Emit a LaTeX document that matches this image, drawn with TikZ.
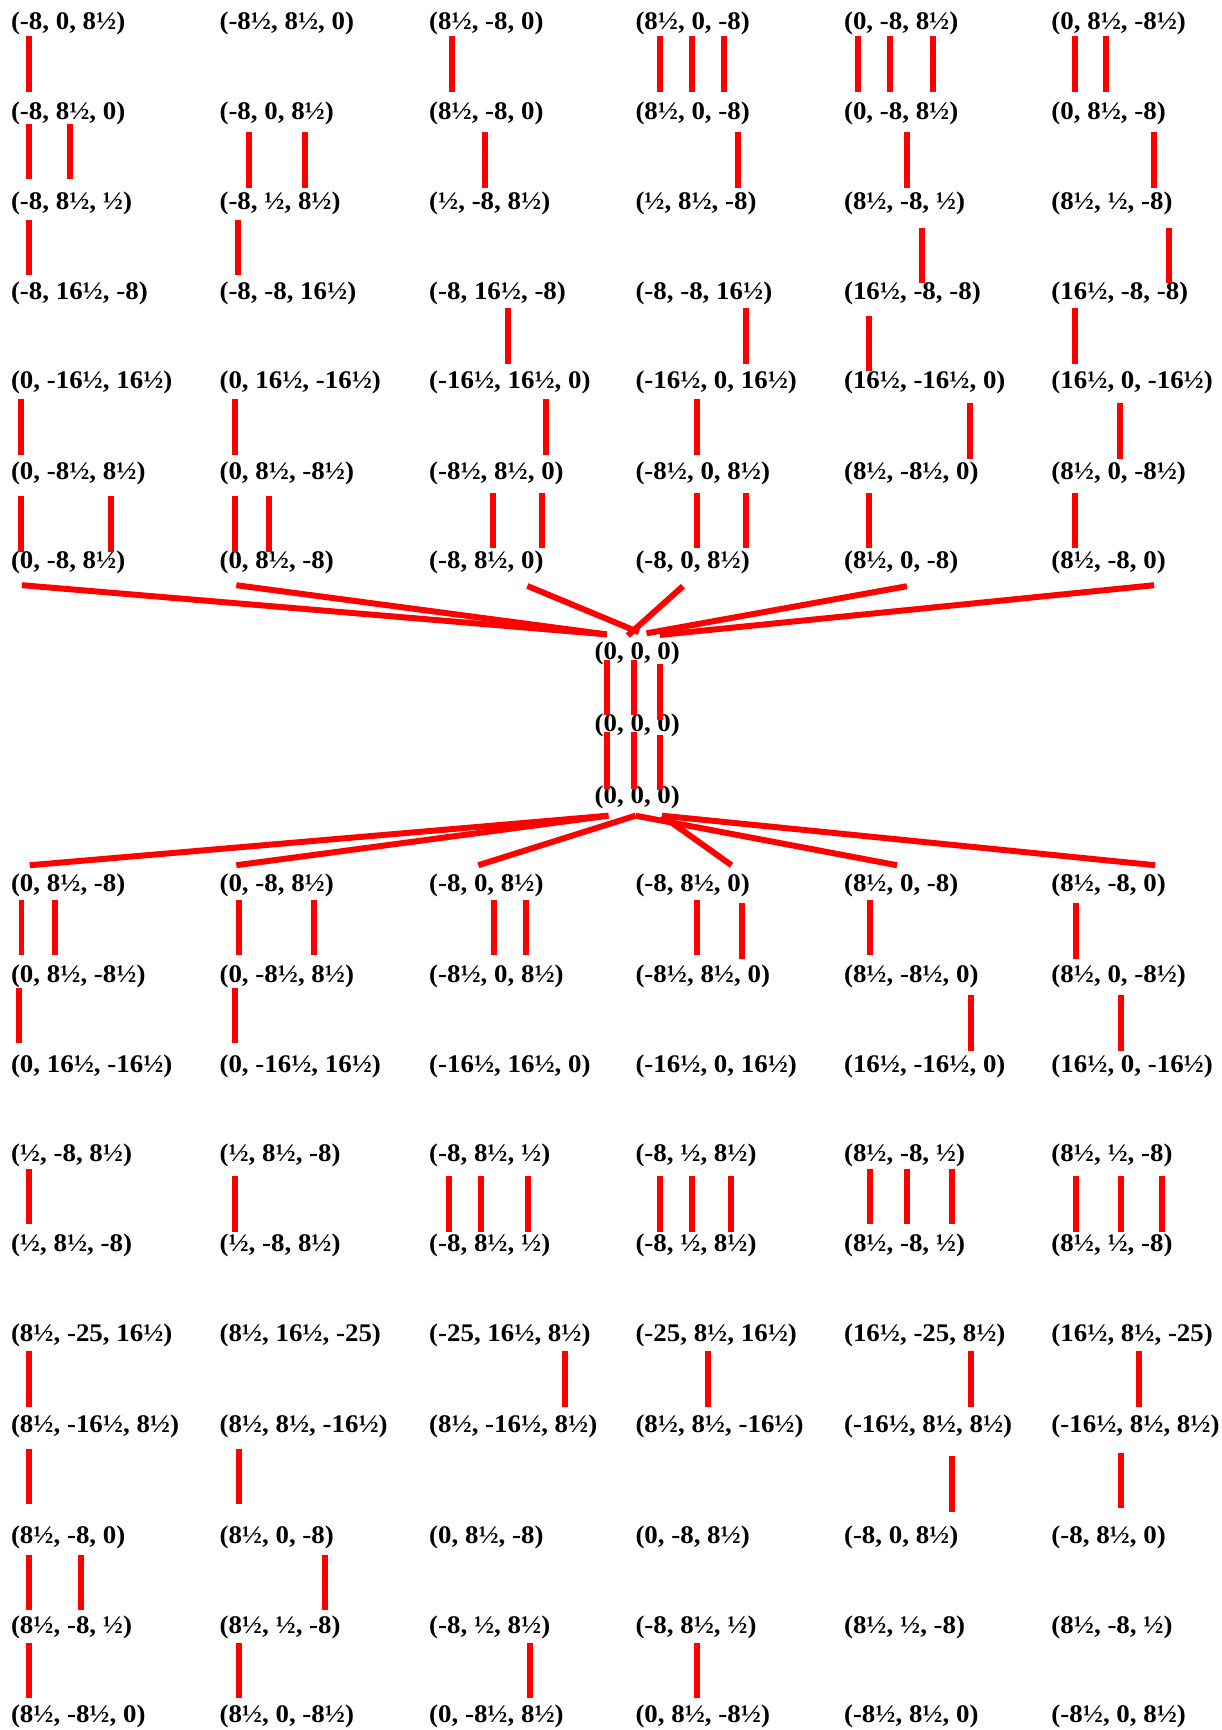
\documentclass[tikz,border=0pt]{standalone}
\usepackage{fontspec}
\setmainfont{Liberation Serif}[FakeStretch=1.06]
\tikzset{
  lab/.style={anchor=west, inner sep=0pt, outer sep=0pt, font=\fontsize{23}{27}\selectfont\bfseries},
  link/.style={draw=red, line width=5.4pt}
}
% label: name, x, y, text
\newcommand\lab[4]{\node[lab] (#1) at (#2,#3) {#4};}
% vertical connector: from, to, dx, dy at start, dy at end (relative to west anchors)
\newcommand\conn[5]{\draw[link] ([shift={(#3,#4)}]#1.west) -- ([shift={(#3,#5)}]#2.west);}
% slanted connector: from, dx, dy, to, dx, dy
\newcommand\fan[6]{\draw[link] ([shift={(#2,#3)}]#1.west) -- ([shift={(#5,#6)}]#4.west);}
\begin{document}
\begin{tikzpicture}[x=1pt, y=-1pt]
\useasboundingbox (0,0) rectangle (1106.7,1568);
% ---------- top block ----------
\lab{t1c1}{10}{21.5}{(-8, 0, 8½)}
\lab{t1c2}{199}{21.5}{(-8½, 8½, 0)}
\lab{t1c3}{389}{21.5}{(8½, -8, 0)}
\lab{t1c4}{576}{21.5}{(8½, 0, -8)}
\lab{t1c5}{765}{21.5}{(0, -8, 8½)}
\lab{t1c6}{953}{21.5}{(0, 8½, -8½)}
\lab{t2c1}{10}{103.1}{(-8, 8½, 0)}
\lab{t2c2}{199}{103.1}{(-8, 0, 8½)}
\lab{t2c3}{389}{103.1}{(8½, -8, 0)}
\lab{t2c4}{576}{103.1}{(8½, 0, -8)}
\lab{t2c5}{765}{103.1}{(0, -8, 8½)}
\lab{t2c6}{953}{103.1}{(0, 8½, -8)}
\lab{t3c1}{10}{184.6}{(-8, 8½, ½)}
\lab{t3c2}{199}{184.6}{(-8, ½, 8½)}
\lab{t3c3}{389}{184.6}{(½, -8, 8½)}
\lab{t3c4}{576}{184.6}{(½, 8½, -8)}
\lab{t3c5}{765}{184.6}{(8½, -8, ½)}
\lab{t3c6}{953}{184.6}{(8½, ½, -8)}
\lab{t4c1}{10}{266.1}{(-8, 16½, -8)}
\lab{t4c2}{199}{266.1}{(-8, -8, 16½)}
\lab{t4c3}{389}{266.1}{(-8, 16½, -8)}
\lab{t4c4}{576}{266.1}{(-8, -8, 16½)}
\lab{t4c5}{765}{266.1}{(16½, -8, -8)}
\lab{t4c6}{953}{266.1}{(16½, -8, -8)}
\lab{t5c1}{10}{347}{(0, -16½, 16½)}
\lab{t5c2}{199}{347}{(0, 16½, -16½)}
\lab{t5c3}{389}{347}{(-16½, 16½, 0)}
\lab{t5c4}{576}{347}{(-16½, 0, 16½)}
\lab{t5c5}{765}{347}{(16½, -16½, 0)}
\lab{t5c6}{953}{347}{(16½, 0, -16½)}
\lab{t6c1}{10}{429.2}{(0, -8½, 8½)}
\lab{t6c2}{199}{429.2}{(0, 8½, -8½)}
\lab{t6c3}{389}{429.2}{(-8½, 8½, 0)}
\lab{t6c4}{576}{429.2}{(-8½, 0, 8½)}
\lab{t6c5}{765}{429.2}{(8½, -8½, 0)}
\lab{t6c6}{953}{429.2}{(8½, 0, -8½)}
\lab{t7c1}{10}{510.1}{(0, -8, 8½)}
\lab{t7c2}{199}{510.1}{(0, 8½, -8)}
\lab{t7c3}{389}{510.1}{(-8, 8½, 0)}
\lab{t7c4}{576}{510.1}{(-8, 0, 8½)}
\lab{t7c5}{765}{510.1}{(8½, 0, -8)}
\lab{t7c6}{953}{510.1}{(8½, -8, 0)}
% ---------- centre ----------
\lab{c1}{539}{592.3}{(0, 0, 0)}
\lab{c2}{539}{657.3}{(0, 0, 0)}
\lab{c3}{539}{722.3}{(0, 0, 0)}
% ---------- bottom block ----------
\lab{b1c1}{10}{802.4}{(0, 8½, -8)}
\lab{b1c2}{199}{802.4}{(0, -8, 8½)}
\lab{b1c3}{389}{802.4}{(-8, 0, 8½)}
\lab{b1c4}{576}{802.4}{(-8, 8½, 0)}
\lab{b1c5}{765}{802.4}{(8½, 0, -8)}
\lab{b1c6}{953}{802.4}{(8½, -8, 0)}
\lab{b2c1}{10}{884.6}{(0, 8½, -8½)}
\lab{b2c2}{199}{884.6}{(0, -8½, 8½)}
\lab{b2c3}{389}{884.6}{(-8½, 0, 8½)}
\lab{b2c4}{576}{884.6}{(-8½, 8½, 0)}
\lab{b2c5}{765}{884.6}{(8½, -8½, 0)}
\lab{b2c6}{953}{884.6}{(8½, 0, -8½)}
\lab{b3c1}{10}{966.4}{(0, 16½, -16½)}
\lab{b3c2}{199}{966.4}{(0, -16½, 16½)}
\lab{b3c3}{389}{966.4}{(-16½, 16½, 0)}
\lab{b3c4}{576}{966.4}{(-16½, 0, 16½)}
\lab{b3c5}{765}{966.4}{(16½, -16½, 0)}
\lab{b3c6}{953}{966.4}{(16½, 0, -16½)}
\lab{b4c1}{10}{1047.1}{(½, -8, 8½)}
\lab{b4c2}{199}{1047.1}{(½, 8½, -8)}
\lab{b4c3}{389}{1047.1}{(-8, 8½, ½)}
\lab{b4c4}{576}{1047.1}{(-8, ½, 8½)}
\lab{b4c5}{765}{1047.1}{(8½, -8, ½)}
\lab{b4c6}{953}{1047.1}{(8½, ½, -8)}
\lab{b5c1}{10}{1128.7}{(½, 8½, -8)}
\lab{b5c2}{199}{1128.7}{(½, -8, 8½)}
\lab{b5c3}{389}{1128.7}{(-8, 8½, ½)}
\lab{b5c4}{576}{1128.7}{(-8, ½, 8½)}
\lab{b5c5}{765}{1128.7}{(8½, -8, ½)}
\lab{b5c6}{953}{1128.7}{(8½, ½, -8)}
\lab{b6c1}{10}{1210.3}{(8½, -25, 16½)}
\lab{b6c2}{199}{1210.3}{(8½, 16½, -25)}
\lab{b6c3}{389}{1210.3}{(-25, 16½, 8½)}
\lab{b6c4}{576}{1210.3}{(-25, 8½, 16½)}
\lab{b6c5}{765}{1210.3}{(16½, -25, 8½)}
\lab{b6c6}{953}{1210.3}{(16½, 8½, -25)}
\lab{b7c1}{10}{1292.8}{(8½, -16½, 8½)}
\lab{b7c2}{199}{1292.8}{(8½, 8½, -16½)}
\lab{b7c3}{389}{1292.8}{(8½, -16½, 8½)}
\lab{b7c4}{576}{1292.8}{(8½, 8½, -16½)}
\lab{b7c5}{765}{1292.8}{(-16½, 8½, 8½)}
\lab{b7c6}{953}{1292.8}{(-16½, 8½, 8½)}
\lab{b8c1}{10}{1393.8}{(8½, -8, 0)}
\lab{b8c2}{199}{1393.8}{(8½, 0, -8)}
\lab{b8c3}{389}{1393.8}{(0, 8½, -8)}
\lab{b8c4}{576}{1393.8}{(0, -8, 8½)}
\lab{b8c5}{765}{1393.8}{(-8, 0, 8½)}
\lab{b8c6}{953}{1393.8}{(-8, 8½, 0)}
\lab{b9c1}{10}{1475.3}{(8½, -8, ½)}
\lab{b9c2}{199}{1475.3}{(8½, ½, -8)}
\lab{b9c3}{389}{1475.3}{(-8, ½, 8½)}
\lab{b9c4}{576}{1475.3}{(-8, 8½, ½)}
\lab{b9c5}{765}{1475.3}{(8½, ½, -8)}
\lab{b9c6}{953}{1475.3}{(8½, -8, ½)}
\lab{b10c1}{10}{1555.7}{(8½, -8½, 0)}
\lab{b10c2}{199}{1555.7}{(8½, 0, -8½)}
\lab{b10c3}{389}{1555.7}{(0, -8½, 8½)}
\lab{b10c4}{576}{1555.7}{(0, 8½, -8½)}
\lab{b10c5}{765}{1555.7}{(-8½, 8½, 0)}
\lab{b10c6}{953}{1555.7}{(-8½, 0, 8½)}
% ---------- top connectors ----------
\conn{t1c1}{t2c1}{15.9}{11.5}{-19.8}
\conn{t2c1}{t3c1}{15.9}{9.7}{-22.2}
\conn{t2c1}{t3c1}{53.3}{9.7}{-22.2}
\conn{t3c1}{t4c1}{15.9}{14.9}{-17}
\conn{t5c1}{t6c1}{9.4}{14.9}{-17}
\conn{t6c1}{t7c1}{9.4}{20.8}{-9.8}
\conn{t6c1}{t7c1}{90.7}{20.8}{-9.8}
\conn{t2c2}{t3c2}{26.7}{16.6}{-14.6}
\conn{t2c2}{t3c2}{77.6}{16.6}{-14.6}
\conn{t3c2}{t4c2}{16.5}{14.9}{-17}
\conn{t5c2}{t6c2}{14}{14.9}{-17}
\conn{t6c2}{t7c2}{14}{20.8}{-9.8}
\conn{t6c2}{t7c2}{44.5}{20.8}{-9.8}
\conn{t1c3}{t2c3}{20.4}{11.5}{-19.8}
\conn{t2c3}{t3c3}{51}{16.6}{-14.6}
\conn{t4c3}{t5c3}{71.4}{13.2}{-17.4}
\conn{t5c3}{t6c3}{105.6}{14.9}{-17}
\conn{t6c3}{t7c3}{58.1}{17.4}{-13.2}
\conn{t6c3}{t7c3}{102}{17.4}{-13.2}
\conn{t1c4}{t2c4}{21.9}{11.5}{-19.8}
\conn{t1c4}{t2c4}{51.1}{11.5}{-19.8}
\conn{t1c4}{t2c4}{80.2}{11.5}{-19.8}
\conn{t2c4}{t3c4}{93.2}{16.6}{-14.6}
\conn{t4c4}{t5c4}{100}{13.2}{-17.4}
\conn{t5c4}{t6c4}{55.4}{14.9}{-17}
\conn{t6c4}{t7c4}{55.4}{17.4}{-13.2}
\conn{t6c4}{t7c4}{100}{17.4}{-13.2}
\conn{t1c5}{t2c5}{12.8}{11.5}{-19.8}
\conn{t1c5}{t2c5}{41.9}{11.5}{-19.8}
\conn{t1c5}{t2c5}{80.4}{11.5}{-19.8}
\conn{t2c5}{t3c5}{56.7}{16.6}{-14.6}
\conn{t3c5}{t4c5}{70.4}{21.9}{-9.3}
\conn{t4c5}{t5c5}{22.8}{20.2}{-10.4}
\conn{t5c5}{t6c5}{114.2}{18.4}{-13.5}
\conn{t6c5}{t7c5}{22.8}{17.4}{-13.2}
\conn{t1c6}{t2c6}{21.3}{11.5}{-19.8}
\conn{t1c6}{t2c6}{49}{11.5}{-19.8}
\conn{t2c6}{t3c6}{92.5}{16.6}{-14.6}
\conn{t3c6}{t4c6}{106.2}{21.9}{-9.3}
\conn{t4c6}{t5c6}{21.3}{13.2}{-17.4}
\conn{t5c6}{t6c6}{62.2}{18.4}{-13.5}
\conn{t6c6}{t7c6}{21.3}{17.4}{-13.2}
% ---------- fan into the centre ----------
\fan{t7c1}{9.9}{20.3}{c1}{11}{-17.3}
\fan{t7c2}{15.2}{20.3}{c1}{11}{-17.3}
\fan{t7c3}{89}{21}{c1}{40}{-19.3}
\fan{t7c4}{43}{21.2}{c1}{30}{-16.3}
\fan{t7c5}{57}{21.2}{c1}{47}{-18.3}
\fan{t7c6}{93}{20.3}{c1}{59}{-16.8}
% ---------- centre verticals ----------
\conn{c1}{c2}{11}{6.1}{-9.1}
\conn{c1}{c2}{35.2}{6.1}{-9.1}
\conn{c1}{c2}{58.8}{9.7}{-4.5}
\conn{c2}{c3}{11}{6}{-7.6}
\conn{c2}{c3}{35.2}{6}{-7.6}
\conn{c2}{c3}{58.8}{9.1}{-6.1}
% ---------- fan out of the centre ----------
\fan{c3}{12.5}{17}{b1c1}{16.9}{-18.2}
\fan{c3}{12.5}{17}{b1c2}{15.2}{-18.2}
\fan{c3}{37}{17}{b1c3}{44.5}{-18.2}
\fan{c3}{61}{17}{b1c4}{87}{-18.2}
\fan{c3}{37}{17}{b1c5}{48}{-18.2}
\fan{c3}{61}{17}{b1c6}{94}{-18.2}
% ---------- bottom connectors ----------
\conn{b1c1}{b2c1}{9.5}{13}{-18.8}
\conn{b1c1}{b2c1}{40.1}{13}{-18.8}
\conn{b2c1}{b3c1}{7.3}{10.5}{-21.1}
\conn{b4c1}{b5c1}{15.9}{12.1}{-19.6}
\conn{b1c2}{b2c2}{17.2}{13}{-18.8}
\conn{b1c2}{b2c2}{85.3}{13}{-18.8}
\conn{b2c2}{b3c2}{14.3}{10.5}{-21.1}
\conn{b4c2}{b5c2}{14.3}{19.1}{-12}
\conn{b1c3}{b2c3}{58.9}{13}{-18.8}
\conn{b1c3}{b2c3}{88.1}{13}{-18.8}
\conn{b4c3}{b5c3}{18.2}{19.1}{-12}
\conn{b4c3}{b5c3}{47}{19.1}{-12}
\conn{b4c3}{b5c3}{89.6}{19.1}{-12}
\conn{b1c4}{b2c4}{55.5}{13}{-18.8}
\conn{b1c4}{b2c4}{96.6}{16}{-15.1}
\conn{b4c4}{b5c4}{22}{19.1}{-12}
\conn{b4c4}{b5c4}{51.2}{19.1}{-12}
\conn{b4c4}{b5c4}{86.2}{19.1}{-12}
\conn{b1c5}{b2c5}{23.3}{13}{-18.8}
\conn{b2c5}{b3c5}{114.8}{17.4}{-13.8}
\conn{b4c5}{b5c5}{23.3}{12.1}{-19.6}
\conn{b4c5}{b5c5}{57.2}{12.1}{-19.6}
\conn{b4c5}{b5c5}{98.2}{12.1}{-19.6}
\conn{b1c6}{b2c6}{22}{16}{-15.1}
\conn{b2c6}{b3c6}{63}{17.4}{-13.8}
\conn{b4c6}{b5c6}{22}{19.1}{-12}
\conn{b4c6}{b5c6}{63}{19.1}{-12}
\conn{b4c6}{b5c6}{100.2}{19.1}{-12}
\conn{b6c1}{b7c1}{15.9}{14.5}{-17.5}
\conn{b7c1}{b8c1}{15.9}{20.3}{-30.8}
\conn{b8c1}{b9c1}{15.9}{15.4}{-16.3}
\conn{b8c1}{b9c1}{63.5}{15.4}{-16.3}
\conn{b9c1}{b10c1}{15.9}{13.7}{-16.9}
\conn{b7c2}{b8c2}{17.2}{20.3}{-30.8}
\conn{b8c2}{b9c2}{95.8}{15.4}{-16.3}
\conn{b9c2}{b10c2}{17.2}{13.7}{-16.9}
\conn{b6c3}{b7c3}{123.4}{14.5}{-17.5}
\conn{b9c3}{b10c3}{91}{13.7}{-16.9}
\conn{b6c4}{b7c4}{66}{14.5}{-17.5}
\conn{b9c4}{b10c4}{55.5}{13.7}{-16.9}
\conn{b6c5}{b7c5}{114.8}{14.5}{-17.5}
\conn{b7c5}{b8c5}{98.2}{27.2}{-23.3}
\conn{b6c6}{b7c6}{79.6}{14.5}{-17.5}
\conn{b7c6}{b8c6}{63}{23.9}{-26.9}
\end{tikzpicture}
\end{document}
